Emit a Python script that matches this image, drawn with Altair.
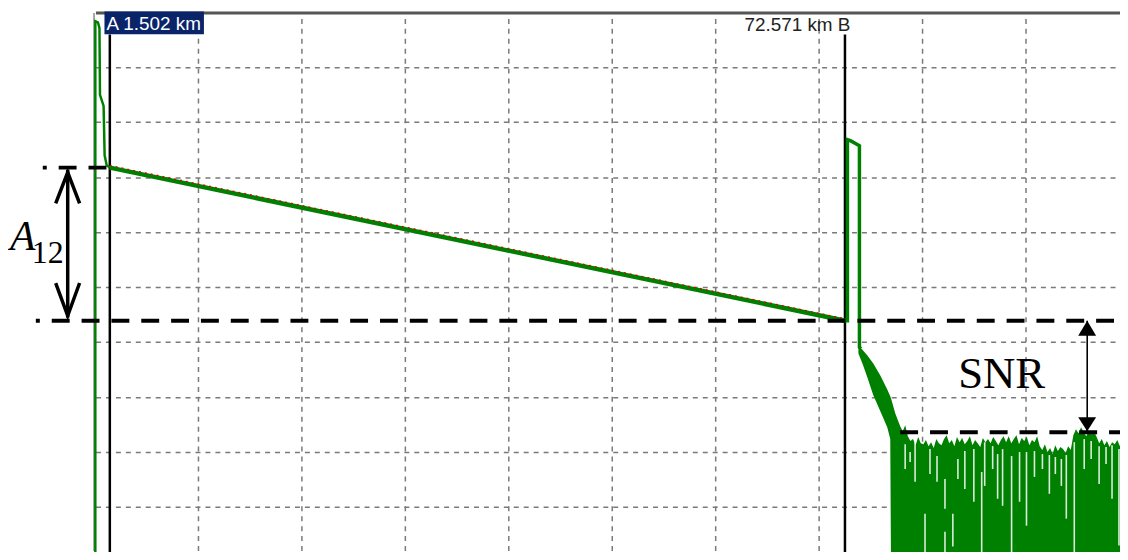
import altair as alt
import pandas as pd

# ---- axes: x = distance (km), y = level (dB) ----
x_domain = [0.12, 99.16]
y_domain = [-18.96, 30.0]
grid_km = [10, 20, 30, 40, 50, 60, 70, 80, 90]
grid_db = [25, 20, 15, 10, 5, 0, -5, -10, -15]

# ---- OTDR trace ----
launch_km = [0.1, 0.1, 0.35, 0.5, 0.55, 0.9, 1.0, 1.2, 1.5]
launch_db = [-25.0, 29.2, 29.1, 28.6, 22.5, 21.5, 17.0, 16.1, 15.88]
fiber_km = [1.5, 72.6]
fiber_db = [15.88, 1.95]
fit_km = [1.5, 72.55]
fit_db = [16.08, 2.14]
refl_km = [72.5, 72.81, 72.81, 73.1, 73.97, 73.97, 74.1]
refl_db = [1.95, 1.95, 18.42, 18.33, 17.87, -0.45, -0.6]
tail_km = [73.87, 74.26, 74.74, 75.31, 75.99, 76.66, 76.95, 77.05, 77.43, 77.91]
tail_top = [-0.32, -0.68, -1.22, -1.95, -3.03, -4.30, -4.93, -5.20, -6.47, -7.65]
tail_bot = [-1.04, -1.95, -3.21, -4.84, -6.29, -7.74, -8.82, -25.0, -25.0, -25.0]
noise_start_km = 78.15
noise_step_km = 0.25
noise_db = [-8.10, -7.56, -8.55,
            -9.00, -8.82, -9.37, -8.64, -9.19,
            -9.28, -8.91, -9.46, -9.10, -9.64, -8.82, -9.19, -9.37,
            -8.82, -8.46, -9.19, -8.91, -9.46, -8.64, -9.10, -8.73, -9.28,
            -9.00, -8.55, -9.37, -8.91, -9.19, -9.55, -8.73, -9.10,
            -8.82, -9.19, -8.64, -9.00, -9.37, -8.91, -8.55, -9.10,
            -8.55, -9.19, -8.82, -8.46, -9.28, -8.73, -9.00, -8.64, -9.37, -8.91, -9.10, -8.55,
            -9.46, -9.82, -9.28, -10.00, -9.64, -10.18, -9.37, -9.91, -9.55, -9.73, -10.09, -9.46, -9.82,
            -8.46, -7.92, -8.28, -7.74, -8.19, -8.55, -8.01, -8.37, -8.10, -8.64,
            -9.19, -8.82, -9.37, -9.00, -9.55, -9.10, -9.28, -8.91, -9.46, -9.19]
gap_km = [78.39, 78.87, 79.35, 80.31, 80.79, 81.47, 82.24, 82.24, 83.0, 83.49,
          84.16, 85.03, 85.79, 86.08, 86.85, 87.33, 87.81, 88.68, 89.45, 90.12,
          90.89, 91.66, 92.33, 92.91, 93.49, 93.97, 94.74, 95.70, 96.37, 97.14,
          97.81, 98.39, 99.06]
gap_top = [-9.28, -10.0, -9.10, -15.61, -9.73, -10.36, -12.44, -17.24, -15.61, -10.63,
           -9.91, -9.73, -11.81, -9.10, -9.46, -10.18, -9.73, -10.36, -10.0, -10.0,
           -9.91, -10.18, -10.27, -10.45, -10.63, -10.27, -9.10, -8.82, -9.0, -9.46,
           -9.55, -9.37, -9.73]
gap_bot = [-11.54, -10.9, -12.71, -20.0, -12.0, -12.71, -15.16, -20.0, -18.6, -12.44,
           -13.35, -14.52, -20.0, -13.08, -11.54, -14.25, -14.89, -20.0, -14.52, -16.70,
           -12.26, -11.54, -13.80, -12.0, -13.08, -16.06, -20.0, -11.54, -10.63, -12.90,
           -11.09, -14.25, -18.5]

# ---- markers ----
marker_km = [1.502, 72.571]
marker_top_db = 28.0
a_label = "A 1.502 km"
b_label = "72.571 km B"
a_box_km = [0.985, 10.60]
a_box_db = [28.01, 30.09]

# ---- annotations ----
level_db = [15.88, 1.95]
level_from_km = [-4.98, -5.65]
level_to_km = [1.47, 99.5]
snr_db = -8.19
snr_from_km = 77.91
a12_km = -2.57
a12_head_km = [-3.73, -2.57, -1.42, -3.73, -2.57, -1.42]
a12_head_db = [12.62, 15.45, 12.62, 5.38, 2.40, 5.38]
a12_head_part = ["t", "t", "t", "b", "b", "b"]
snr_km = 95.99
snr_head_km = [95.12, 95.99, 96.85, 95.12, 95.99, 96.85]
snr_head_db = [0.59, 1.95, 0.59, -6.83, -8.10, -6.83]
snr_head_base = [0.59, 0.59, 0.59, -6.83, -6.83, -6.83]
snr_head_part = ["t", "t", "t", "b", "b", "b"]

GREEN = "#008000"

xaxis = alt.Axis(orient="top", values=grid_km, grid=True, labels=False, ticks=False,
                 domain=True, domainColor="#555555", domainWidth=3, title=None,
                 gridColor="#7a7a7a", gridDash=[5, 5], gridWidth=1.5)
yaxis = alt.Axis(orient="left", values=grid_db, grid=True, labels=False, ticks=False,
                 domain=True, domainColor="#8a8a8a", domainWidth=1.5, offset=2, title=None,
                 gridColor="#7a7a7a", gridDash=[5, 5], gridWidth=1.5)
X = alt.X("km:Q", scale=alt.Scale(domain=x_domain, nice=False, zero=False), axis=xaxis)
Y = alt.Y("db:Q", scale=alt.Scale(domain=y_domain, nice=False, zero=False), axis=yaxis)

# data frames
tail_df = pd.DataFrame({"km": tail_km, "db": tail_top, "db2": tail_bot})
noise_km = [noise_start_km + i * noise_step_km for i in range(len(noise_db))]
noise_df = pd.DataFrame({"km": noise_km, "db": noise_db, "db2": [-25.0] * len(noise_db)})
fill_df = pd.concat([tail_df, noise_df], ignore_index=True)

fill = alt.Chart(fill_df).mark_area(color=GREEN, interpolate="linear").encode(
    x=X, y=Y, y2="db2:Q")
gaps = alt.Chart(pd.DataFrame({"km": gap_km, "db": gap_top, "db2": gap_bot})).mark_rule(
    color="white", strokeWidth=1.6, opacity=0.85).encode(x=X, y=Y, y2="db2:Q")

markers = alt.Chart(pd.DataFrame({"km": marker_km, "db": [marker_top_db] * 2, "db2": [-25.0] * 2})
                    ).mark_rule(color="black", strokeWidth=2.5).encode(x=X, y=Y, y2="db2:Q")

launch = alt.Chart(pd.DataFrame({"km": launch_km, "db": launch_db, "o": list(range(len(launch_km)))})
                   ).mark_line(color=GREEN, strokeWidth=2.5).encode(x=X, y=Y, order="o:Q")
fiber = alt.Chart(pd.DataFrame({"km": fiber_km, "db": fiber_db})).mark_line(
    color=GREEN, strokeWidth=4.5).encode(x=X, y=Y)
fit = alt.Chart(pd.DataFrame({"km": fit_km, "db": fit_db})).mark_line(
    color="#e00000", strokeWidth=1.2, strokeDash=[2, 4]).encode(x=X, y=Y)
refl = alt.Chart(pd.DataFrame({"km": refl_km, "db": refl_db, "o": list(range(len(refl_km)))})
                 ).mark_line(color=GREEN, strokeWidth=3.5).encode(x=X, y=Y, order="o:Q")

a_box = alt.Chart(pd.DataFrame({"km": [a_box_km[0]], "km2": [a_box_km[1]],
                                "db": [a_box_db[0]], "db2": [a_box_db[1]]})).mark_rect(
    color="#0a246a").encode(x=X, x2="km2:Q", y=Y, y2="db2:Q")
a_text = alt.Chart(pd.DataFrame({"km": [1.18], "db": [28.37], "t": [a_label]})).mark_text(
    align="left", baseline="alphabetic", font="Liberation Sans", fontSize=19, color="white"
).encode(x=X, y=Y, text="t:N")
b_text = alt.Chart(pd.DataFrame({"km": [73.1], "db": [28.28], "t": [b_label]})).mark_text(
    align="right", baseline="alphabetic", font="Liberation Sans", fontSize=19, color="#222222"
).encode(x=X, y=Y, text="t:N")

levels = alt.Chart(pd.DataFrame({"km": level_from_km, "km2": level_to_km, "db": level_db})
                   ).mark_rule(color="black", strokeWidth=4, strokeDash=[18, 12],
                               strokeDashOffset=14).encode(x=X, x2="km2:Q", y=Y)
snr_line = alt.Chart(pd.DataFrame({"km": [snr_from_km], "km2": [99.5], "db": [snr_db]})
                     ).mark_rule(color="black", strokeWidth=4, strokeDash=[18, 12]
                                 ).encode(x=X, x2="km2:Q", y=Y)

a12_shaft = alt.Chart(pd.DataFrame({"km": [a12_km], "db": [level_db[0] - 0.2], "db2": [level_db[1] + 0.3]})
                      ).mark_rule(color="black", strokeWidth=3.5).encode(x=X, y=Y, y2="db2:Q")
a12_heads = alt.Chart(pd.DataFrame({"km": a12_head_km, "db": a12_head_db, "p": a12_head_part})
                      ).mark_line(color="black", strokeWidth=3.5, strokeJoin="miter").encode(
    x=X, y=Y, detail="p:N")
a12_A = alt.Chart(pd.DataFrame({"km": [-8.15], "db": [8.37], "t": ["A"]})).mark_text(
    align="left", baseline="alphabetic", font="Liberation Serif", fontStyle="italic",
    fontSize=42, color="black").encode(x=X, y=Y, text="t:N")
a12_sub = alt.Chart(pd.DataFrame({"km": [-6.04], "db": [7.19], "t": ["12"]})).mark_text(
    align="left", baseline="alphabetic", font="Liberation Serif", fontSize=32, color="black"
).encode(x=X, y=Y, text="t:N")

snr_shaft = alt.Chart(pd.DataFrame({"km": [snr_km], "db": [level_db[1]], "db2": [snr_db]})
                      ).mark_rule(color="black", strokeWidth=1.6).encode(x=X, y=Y, y2="db2:Q")
snr_heads = alt.Chart(pd.DataFrame({"km": snr_head_km, "db": snr_head_db, "db2": snr_head_base,
                                    "p": snr_head_part})).mark_area(color="black").encode(
    x=X, y=Y, y2="db2:Q", detail="p:N")
snr_text = alt.Chart(pd.DataFrame({"km": [87.72], "db": [-4.21], "t": ["SNR"]})).mark_text(
    align="center", baseline="alphabetic", font="Liberation Serif", fontSize=45, color="black"
).encode(x=X, y=Y, text="t:N")

chart = alt.layer(
    fill, gaps, markers, launch, fiber, fit, refl,
    a_box, a_text, b_text,
    levels, snr_line, a12_shaft, a12_heads, a12_A, a12_sub,
    snr_shaft, snr_heads, snr_text
).properties(
    width=1030, height=541,
    padding={"left": 88, "top": 3, "right": 0, "bottom": 0},
    autosize=alt.AutoSizeParams(type="none"),
    background="white"
).configure_view(stroke="transparent")

chart.save("out.html", embed_options={"renderer": "svg", "actions": False})
